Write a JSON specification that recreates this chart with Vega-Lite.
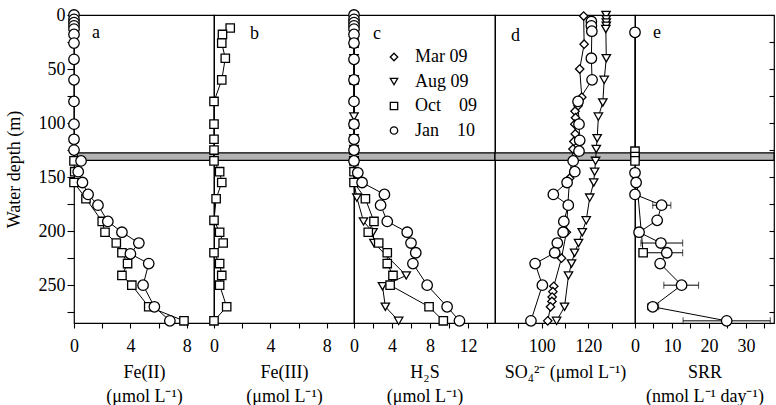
{
 "$schema": "https://vega.github.io/schema/vega-lite/v6.json",
 "background": "white",
 "padding": {"left": 4, "top": 5, "right": 0, "bottom": 0},
 "spacing": 0,
 "bounds": "flush",
 "resolve": {"scale": {"shape": "independent", "stroke": "independent"}, "legend": {"shape": "independent", "stroke": "independent"}},
 "config": {
  "font": "Liberation Serif",
  "view": {"stroke": "black", "strokeWidth": 1.2},
  "axis": {"domain": false, "grid": false, "labelFont": "Liberation Serif", "labelFontSize": 18, "labelColor": "black", "titleFont": "Liberation Serif", "titleFontSize": 18, "titleFontWeight": "normal", "titleColor": "black", "tickColor": "black", "tickWidth": 1.1, "tickSize": 5, "labelFlush": false, "labelOverlap": false},
  "axisX": {"labelPadding": 9, "titlePadding": 8, "titleLineHeight": 24},
  "axisY": {"tickSize": 7, "labelPadding": 2, "titlePadding": 15},
  "legend": {"labelFont": "Liberation Serif", "labelFontSize": 18, "labelColor": "black", "rowPadding": 6.5, "padding": 0},
  "title": {"font": "Liberation Serif", "fontSize": 18, "fontWeight": "normal", "color": "black", "anchor": "start", "frame": "group", "offset": -36, "baseline": "alphabetic"}
 },
 "datasets": {
  "band": [{"top": 127.5, "bottom": 134.5}],
  "prof": [
   {"panel": "a", "series": "Oct 09", "depth": 135, "value": 0},
   {"panel": "a", "series": "Oct 09", "depth": 145, "value": 0.05},
   {"panel": "a", "series": "Oct 09", "depth": 155, "value": 0},
   {"panel": "a", "series": "Oct 09", "depth": 170, "value": 0.85},
   {"panel": "a", "series": "Oct 09", "depth": 191, "value": 2.0},
   {"panel": "a", "series": "Oct 09", "depth": 201, "value": 2.2},
   {"panel": "a", "series": "Oct 09", "depth": 211, "value": 3.0},
   {"panel": "a", "series": "Oct 09", "depth": 220, "value": 3.4},
   {"panel": "a", "series": "Oct 09", "depth": 230, "value": 3.8},
   {"panel": "a", "series": "Oct 09", "depth": 241, "value": 3.4},
   {"panel": "a", "series": "Oct 09", "depth": 250, "value": 4.1},
   {"panel": "a", "series": "Oct 09", "depth": 270, "value": 5.3},
   {"panel": "a", "series": "Oct 09", "depth": 283, "value": 7.8},
   {"panel": "a", "series": "Jan 10", "depth": 0, "value": 0},
   {"panel": "a", "series": "Jan 10", "depth": 4, "value": 0},
   {"panel": "a", "series": "Jan 10", "depth": 7, "value": 0},
   {"panel": "a", "series": "Jan 10", "depth": 10, "value": 0},
   {"panel": "a", "series": "Jan 10", "depth": 13, "value": 0},
   {"panel": "a", "series": "Jan 10", "depth": 18, "value": 0},
   {"panel": "a", "series": "Jan 10", "depth": 26, "value": 0},
   {"panel": "a", "series": "Jan 10", "depth": 41, "value": 0},
   {"panel": "a", "series": "Jan 10", "depth": 60, "value": 0},
   {"panel": "a", "series": "Jan 10", "depth": 80, "value": 0},
   {"panel": "a", "series": "Jan 10", "depth": 101, "value": 0},
   {"panel": "a", "series": "Jan 10", "depth": 115, "value": 0},
   {"panel": "a", "series": "Jan 10", "depth": 125, "value": 0},
   {"panel": "a", "series": "Jan 10", "depth": 135, "value": 0.5},
   {"panel": "a", "series": "Jan 10", "depth": 145, "value": 0.3},
   {"panel": "a", "series": "Jan 10", "depth": 155, "value": 0.6},
   {"panel": "a", "series": "Jan 10", "depth": 166, "value": 1.0},
   {"panel": "a", "series": "Jan 10", "depth": 176, "value": 1.7},
   {"panel": "a", "series": "Jan 10", "depth": 191, "value": 2.4},
   {"panel": "a", "series": "Jan 10", "depth": 201, "value": 3.4},
   {"panel": "a", "series": "Jan 10", "depth": 211, "value": 4.6},
   {"panel": "a", "series": "Jan 10", "depth": 221, "value": 4.0},
   {"panel": "a", "series": "Jan 10", "depth": 230, "value": 5.3},
   {"panel": "a", "series": "Jan 10", "depth": 250, "value": 4.9},
   {"panel": "a", "series": "Jan 10", "depth": 270, "value": 5.7},
   {"panel": "a", "series": "Jan 10", "depth": 283, "value": 6.8},

   {"panel": "b", "series": "Oct 09", "depth": 12, "value": 1.15},
   {"panel": "b", "series": "Oct 09", "depth": 18, "value": 0.6},
   {"panel": "b", "series": "Oct 09", "depth": 26, "value": 0.55},
   {"panel": "b", "series": "Oct 09", "depth": 40, "value": 0.8},
   {"panel": "b", "series": "Oct 09", "depth": 60, "value": 0.55},
   {"panel": "b", "series": "Oct 09", "depth": 80, "value": 0},
   {"panel": "b", "series": "Oct 09", "depth": 101, "value": 0},
   {"panel": "b", "series": "Oct 09", "depth": 115, "value": 0},
   {"panel": "b", "series": "Oct 09", "depth": 125, "value": 0},
   {"panel": "b", "series": "Oct 09", "depth": 135, "value": 0},
   {"panel": "b", "series": "Oct 09", "depth": 145, "value": 0.4},
   {"panel": "b", "series": "Oct 09", "depth": 155, "value": 0.55},
   {"panel": "b", "series": "Oct 09", "depth": 170, "value": 0.15},
   {"panel": "b", "series": "Oct 09", "depth": 190, "value": 0},
   {"panel": "b", "series": "Oct 09", "depth": 201, "value": 0.4},
   {"panel": "b", "series": "Oct 09", "depth": 211, "value": 0.65},
   {"panel": "b", "series": "Oct 09", "depth": 220, "value": 0},
   {"panel": "b", "series": "Oct 09", "depth": 230, "value": 0.4},
   {"panel": "b", "series": "Oct 09", "depth": 241, "value": 0.55},
   {"panel": "b", "series": "Oct 09", "depth": 250, "value": 0.4},
   {"panel": "b", "series": "Oct 09", "depth": 270, "value": 0.9},
   {"panel": "b", "series": "Oct 09", "depth": 283, "value": 0},

   {"panel": "c", "series": "Aug 09", "depth": 1, "value": 0},
   {"panel": "c", "series": "Aug 09", "depth": 40, "value": 0},
   {"panel": "c", "series": "Aug 09", "depth": 60, "value": 0},
   {"panel": "c", "series": "Aug 09", "depth": 81, "value": 0},
   {"panel": "c", "series": "Aug 09", "depth": 94, "value": 0},
   {"panel": "c", "series": "Aug 09", "depth": 114, "value": 0},
   {"panel": "c", "series": "Aug 09", "depth": 124, "value": 0},
   {"panel": "c", "series": "Aug 09", "depth": 135, "value": 0},
   {"panel": "c", "series": "Aug 09", "depth": 145, "value": 0},
   {"panel": "c", "series": "Aug 09", "depth": 155, "value": 0},
   {"panel": "c", "series": "Aug 09", "depth": 169, "value": 0.3},
   {"panel": "c", "series": "Aug 09", "depth": 191, "value": 1.0},
   {"panel": "c", "series": "Aug 09", "depth": 201, "value": 2.0},
   {"panel": "c", "series": "Aug 09", "depth": 211, "value": 2.1},
   {"panel": "c", "series": "Aug 09", "depth": 241, "value": 5.5},
   {"panel": "c", "series": "Aug 09", "depth": 251, "value": 3.0},
   {"panel": "c", "series": "Aug 09", "depth": 270, "value": 3.3},
   {"panel": "c", "series": "Aug 09", "depth": 283, "value": 4.7},
   {"panel": "c", "series": "Oct 09", "depth": 12, "value": 0},
   {"panel": "c", "series": "Oct 09", "depth": 26, "value": 0},
   {"panel": "c", "series": "Oct 09", "depth": 60, "value": 0},
   {"panel": "c", "series": "Oct 09", "depth": 101, "value": 0},
   {"panel": "c", "series": "Oct 09", "depth": 125, "value": 0},
   {"panel": "c", "series": "Oct 09", "depth": 135, "value": 0},
   {"panel": "c", "series": "Oct 09", "depth": 145, "value": 0},
   {"panel": "c", "series": "Oct 09", "depth": 155, "value": 0},
   {"panel": "c", "series": "Oct 09", "depth": 170, "value": 1.2},
   {"panel": "c", "series": "Oct 09", "depth": 191, "value": 2.1},
   {"panel": "c", "series": "Oct 09", "depth": 201, "value": 1.5},
   {"panel": "c", "series": "Oct 09", "depth": 211, "value": 2.6},
   {"panel": "c", "series": "Oct 09", "depth": 220, "value": 3.5},
   {"panel": "c", "series": "Oct 09", "depth": 230, "value": 3.5},
   {"panel": "c", "series": "Oct 09", "depth": 241, "value": 4.1},
   {"panel": "c", "series": "Oct 09", "depth": 250, "value": 3.8},
   {"panel": "c", "series": "Oct 09", "depth": 270, "value": 7.9},
   {"panel": "c", "series": "Oct 09", "depth": 283, "value": 9.4},
   {"panel": "c", "series": "Jan 10", "depth": 0, "value": 0},
   {"panel": "c", "series": "Jan 10", "depth": 4, "value": 0},
   {"panel": "c", "series": "Jan 10", "depth": 7, "value": 0},
   {"panel": "c", "series": "Jan 10", "depth": 10, "value": 0},
   {"panel": "c", "series": "Jan 10", "depth": 13, "value": 0},
   {"panel": "c", "series": "Jan 10", "depth": 18, "value": 0},
   {"panel": "c", "series": "Jan 10", "depth": 26, "value": 0},
   {"panel": "c", "series": "Jan 10", "depth": 41, "value": 0},
   {"panel": "c", "series": "Jan 10", "depth": 60, "value": 0},
   {"panel": "c", "series": "Jan 10", "depth": 80, "value": 0},
   {"panel": "c", "series": "Jan 10", "depth": 101, "value": 0},
   {"panel": "c", "series": "Jan 10", "depth": 115, "value": 0},
   {"panel": "c", "series": "Jan 10", "depth": 125, "value": 0},
   {"panel": "c", "series": "Jan 10", "depth": 135, "value": 0},
   {"panel": "c", "series": "Jan 10", "depth": 146, "value": 0.4},
   {"panel": "c", "series": "Jan 10", "depth": 155, "value": 0.85},
   {"panel": "c", "series": "Jan 10", "depth": 166, "value": 3.2},
   {"panel": "c", "series": "Jan 10", "depth": 176, "value": 2.8},
   {"panel": "c", "series": "Jan 10", "depth": 191, "value": 3.5},
   {"panel": "c", "series": "Jan 10", "depth": 201, "value": 5.6},
   {"panel": "c", "series": "Jan 10", "depth": 211, "value": 6.0},
   {"panel": "c", "series": "Jan 10", "depth": 220, "value": 6.5},
   {"panel": "c", "series": "Jan 10", "depth": 230, "value": 6.2},
   {"panel": "c", "series": "Jan 10", "depth": 250, "value": 7.7},
   {"panel": "c", "series": "Jan 10", "depth": 270, "value": 9.8},
   {"panel": "c", "series": "Jan 10", "depth": 283, "value": 11.1},

   {"panel": "d", "series": "Mar 09", "depth": 1, "value": 118.0},
   {"panel": "d", "series": "Mar 09", "depth": 27, "value": 118.2},
   {"panel": "d", "series": "Mar 09", "depth": 50, "value": 116.3},
   {"panel": "d", "series": "Mar 09", "depth": 76, "value": 117.2},
   {"panel": "d", "series": "Mar 09", "depth": 84, "value": 115.6},
   {"panel": "d", "series": "Mar 09", "depth": 89, "value": 114.3},
   {"panel": "d", "series": "Mar 09", "depth": 95, "value": 114.5},
   {"panel": "d", "series": "Mar 09", "depth": 101, "value": 114.2},
   {"panel": "d", "series": "Mar 09", "depth": 110, "value": 114.4},
   {"panel": "d", "series": "Mar 09", "depth": 117, "value": 113.8},
   {"panel": "d", "series": "Mar 09", "depth": 124, "value": 113.4},
   {"panel": "d", "series": "Mar 09", "depth": 151, "value": 112.0},
   {"panel": "d", "series": "Mar 09", "depth": 176, "value": 111.2},
   {"panel": "d", "series": "Mar 09", "depth": 201, "value": 110.6},
   {"panel": "d", "series": "Mar 09", "depth": 225, "value": 108.5},
   {"panel": "d", "series": "Mar 09", "depth": 251, "value": 105.2},
   {"panel": "d", "series": "Mar 09", "depth": 256, "value": 104.8},
   {"panel": "d", "series": "Mar 09", "depth": 261, "value": 104.5},
   {"panel": "d", "series": "Mar 09", "depth": 265, "value": 104.4},
   {"panel": "d", "series": "Mar 09", "depth": 270, "value": 103.8},
   {"panel": "d", "series": "Mar 09", "depth": 283, "value": 102.6},
   {"panel": "d", "series": "Aug 09", "depth": 0, "value": 127.6},
   {"panel": "d", "series": "Aug 09", "depth": 4, "value": 127.7},
   {"panel": "d", "series": "Aug 09", "depth": 7, "value": 127.7},
   {"panel": "d", "series": "Aug 09", "depth": 10, "value": 127.7},
   {"panel": "d", "series": "Aug 09", "depth": 13, "value": 127.5},
   {"panel": "d", "series": "Aug 09", "depth": 40, "value": 127.7},
   {"panel": "d", "series": "Aug 09", "depth": 60, "value": 126.8},
   {"panel": "d", "series": "Aug 09", "depth": 81, "value": 126.2},
   {"panel": "d", "series": "Aug 09", "depth": 94, "value": 124.3},
   {"panel": "d", "series": "Aug 09", "depth": 114, "value": 123.8},
   {"panel": "d", "series": "Aug 09", "depth": 124, "value": 123.4},
   {"panel": "d", "series": "Aug 09", "depth": 135, "value": 123.1},
   {"panel": "d", "series": "Aug 09", "depth": 145, "value": 122.7},
   {"panel": "d", "series": "Aug 09", "depth": 155, "value": 122.3},
   {"panel": "d", "series": "Aug 09", "depth": 169, "value": 120.6},
   {"panel": "d", "series": "Aug 09", "depth": 190, "value": 119.1},
   {"panel": "d", "series": "Aug 09", "depth": 201, "value": 117.4},
   {"panel": "d", "series": "Aug 09", "depth": 211, "value": 115.8},
   {"panel": "d", "series": "Aug 09", "depth": 220, "value": 114.1},
   {"panel": "d", "series": "Aug 09", "depth": 230, "value": 112.8},
   {"panel": "d", "series": "Aug 09", "depth": 241, "value": 111.5},
   {"panel": "d", "series": "Aug 09", "depth": 270, "value": 109.8},
   {"panel": "d", "series": "Aug 09", "depth": 283, "value": 106.4},
   {"panel": "d", "series": "Jan 10", "depth": 6, "value": 121.3},
   {"panel": "d", "series": "Jan 10", "depth": 10, "value": 121.3},
   {"panel": "d", "series": "Jan 10", "depth": 15, "value": 121.5},
   {"panel": "d", "series": "Jan 10", "depth": 40, "value": 121.3},
   {"panel": "d", "series": "Jan 10", "depth": 60, "value": 121.6},
   {"panel": "d", "series": "Jan 10", "depth": 80, "value": 115.6},
   {"panel": "d", "series": "Jan 10", "depth": 101, "value": 116.0},
   {"panel": "d", "series": "Jan 10", "depth": 116, "value": 116.3},
   {"panel": "d", "series": "Jan 10", "depth": 126, "value": 116.0},
   {"panel": "d", "series": "Jan 10", "depth": 135, "value": 113.5},
   {"panel": "d", "series": "Jan 10", "depth": 145, "value": 114.2},
   {"panel": "d", "series": "Jan 10", "depth": 155, "value": 110.9},
   {"panel": "d", "series": "Jan 10", "depth": 166, "value": 105.0},
   {"panel": "d", "series": "Jan 10", "depth": 176, "value": 111.4},
   {"panel": "d", "series": "Jan 10", "depth": 191, "value": 109.5},
   {"panel": "d", "series": "Jan 10", "depth": 201, "value": 109.2},
   {"panel": "d", "series": "Jan 10", "depth": 211, "value": 106.7},
   {"panel": "d", "series": "Jan 10", "depth": 220, "value": 105.6},
   {"panel": "d", "series": "Jan 10", "depth": 230, "value": 97.2},
   {"panel": "d", "series": "Jan 10", "depth": 250, "value": 100.3},
   {"panel": "d", "series": "Jan 10", "depth": 283, "value": 95.4},

   {"panel": "e", "series": "Oct 09", "depth": 126, "value": 0},
   {"panel": "e", "series": "Oct 09", "depth": 131, "value": 0},
   {"panel": "e", "series": "Oct 09", "depth": 135, "value": 0},
   {"panel": "e", "series": "Oct 09", "depth": 220, "value": 2.2},
   {"panel": "e", "series": "Jan 10", "depth": 16, "value": 0},
   {"panel": "e", "series": "Jan 10", "depth": 146, "value": 0},
   {"panel": "e", "series": "Jan 10", "depth": 155, "value": 0.3},
   {"panel": "e", "series": "Jan 10", "depth": 166, "value": 0},
   {"panel": "e", "series": "Jan 10", "depth": 176, "value": 7.2},
   {"panel": "e", "series": "Jan 10", "depth": 190, "value": 6.0},
   {"panel": "e", "series": "Jan 10", "depth": 201, "value": 1.1},
   {"panel": "e", "series": "Jan 10", "depth": 211, "value": 7.0},
   {"panel": "e", "series": "Jan 10", "depth": 220, "value": 8.6},
   {"panel": "e", "series": "Jan 10", "depth": 230, "value": 6.8},
   {"panel": "e", "series": "Jan 10", "depth": 250, "value": 12.6},
   {"panel": "e", "series": "Jan 10", "depth": 270, "value": 4.8},
   {"panel": "e", "series": "Jan 10", "depth": 283, "value": 24.8}
  ],
  "err": [
   {"series": "Jan 10", "depth": 155, "lo": 0, "hi": 0.6},
   {"series": "Jan 10", "depth": 176, "lo": 4.8, "hi": 9.7},
   {"series": "Jan 10", "depth": 190, "lo": 5.5, "hi": 6.5},
   {"series": "Jan 10", "depth": 201, "lo": 0, "hi": 2.2},
   {"series": "Jan 10", "depth": 211, "lo": 1.6, "hi": 12.9},
   {"series": "Jan 10", "depth": 220, "lo": 1.9, "hi": 12.9},
   {"series": "Jan 10", "depth": 230, "lo": 6.3, "hi": 7.3},
   {"series": "Jan 10", "depth": 250, "lo": 7.8, "hi": 17.2},
   {"series": "Jan 10", "depth": 270, "lo": 3.4, "hi": 6.4},
   {"series": "Jan 10", "depth": 283, "lo": 13.0, "hi": 36.6},
   {"series": "Oct 09", "depth": 220, "lo": 1.6, "hi": 2.8}
  ]
 },
 "hconcat": [
  {
   "width": 140, "height": 308,
   "title": {"text": "a", "dx": 18},
   "layer": [
    {"data": {"name": "band"}, "mark": {"type": "rect", "fill": "#b3b3b3", "stroke": "black", "strokeWidth": 1.2},
     "encoding": {"y": {"field": "top", "type": "quantitative", "scale": {"domain": [0, 285], "reverse": true, "nice": false, "zero": false}, "axis": {"title": "Water depth (m)", "values": [0,25,50,75,100,125,150,175,200,225,250,275], "labelExpr": "datum.value % 50 == 0 ? datum.label : ''"}}, "y2": {"field": "bottom"}}},
    {"data": {"name": "prof"}, "transform": [{"filter": "datum.panel == 'a'"}], "mark": {"type": "line", "color": "black", "strokeWidth": 1},
     "encoding": {"x": {"field": "value", "type": "quantitative", "scale": {"domain": [0, 9.93], "nice": false, "zero": false}, "axis": {"title": ["Fe(II)", "(μmol L⁻¹)"], "values": [0,2,4,6,8], "labelExpr": "datum.value % 4 == 0 ? datum.label : ''"}},
      "y": {"field": "depth", "type": "quantitative", "scale": {"domain": [0, 285], "reverse": true, "nice": false, "zero": false}, "axis": {"title": "Water depth (m)", "values": [0,25,50,75,100,125,150,175,200,225,250,275], "labelExpr": "datum.value % 50 == 0 ? datum.label : ''"}},
      "detail": {"field": "series"}, "order": {"field": "depth", "type": "quantitative"}}},
    {"data": {"name": "prof"}, "transform": [{"filter": "datum.panel == 'a' && datum.series != 'Jan 10'"}], "mark": {"type": "point", "filled": false, "fill": "white", "stroke": "black", "strokeWidth": 1.3, "opacity": 1, "size": 70},
     "encoding": {"x": {"field": "value", "type": "quantitative", "scale": {"domain": [0, 9.93], "nice": false, "zero": false}, "axis": {"title": ["Fe(II)", "(μmol L⁻¹)"], "values": [0,2,4,6,8], "labelExpr": "datum.value % 4 == 0 ? datum.label : ''"}},
      "y": {"field": "depth", "type": "quantitative", "scale": {"domain": [0, 285], "reverse": true, "nice": false, "zero": false}, "axis": {"title": "Water depth (m)", "values": [0,25,50,75,100,125,150,175,200,225,250,275], "labelExpr": "datum.value % 50 == 0 ? datum.label : ''"}},
      "shape": {"field": "series", "type": "nominal", "scale": {"domain": ["Mar 09", "Aug 09", "Oct 09", "Jan 10"], "range": ["diamond", "triangle-down", "square", "circle"]}, "legend": null}}},
    {"data": {"name": "prof"}, "transform": [{"filter": "datum.panel == 'a' && datum.series == 'Jan 10'"}], "mark": {"type": "point", "filled": false, "fill": "white", "stroke": "black", "strokeWidth": 1.3, "opacity": 1, "size": 110},
     "encoding": {"x": {"field": "value", "type": "quantitative", "scale": {"domain": [0, 9.93], "nice": false, "zero": false}, "axis": {"title": ["Fe(II)", "(μmol L⁻¹)"], "values": [0,2,4,6,8], "labelExpr": "datum.value % 4 == 0 ? datum.label : ''"}},
      "y": {"field": "depth", "type": "quantitative", "scale": {"domain": [0, 285], "reverse": true, "nice": false, "zero": false}, "axis": {"title": "Water depth (m)", "values": [0,25,50,75,100,125,150,175,200,225,250,275], "labelExpr": "datum.value % 50 == 0 ? datum.label : ''"}},
      "shape": {"field": "series", "type": "nominal", "scale": {"domain": ["Mar 09", "Aug 09", "Oct 09", "Jan 10"], "range": ["diamond", "triangle-down", "square", "circle"]}, "legend": null}}}
   ]
  },
  {
   "width": 140, "height": 308,
   "title": {"text": "b", "dx": 36, "dy": -8},
   "layer": [
    {"data": {"name": "band"}, "mark": {"type": "rect", "fill": "#b3b3b3", "stroke": "black", "strokeWidth": 1.2},
     "encoding": {"y": {"field": "top", "type": "quantitative", "scale": {"domain": [0, 285], "reverse": true, "nice": false, "zero": false}, "axis": null}, "y2": {"field": "bottom"}}},
    {"data": {"name": "prof"}, "transform": [{"filter": "datum.panel == 'b'"}], "mark": {"type": "line", "color": "black", "strokeWidth": 1},
     "encoding": {"x": {"field": "value", "type": "quantitative", "scale": {"domain": [0, 9.93], "nice": false, "zero": false}, "axis": {"title": ["Fe(III)", "(μmol L⁻¹)"], "values": [0,2,4,6,8], "labelExpr": "datum.value % 4 == 0 ? datum.label : ''"}},
      "y": {"field": "depth", "type": "quantitative", "scale": {"domain": [0, 285], "reverse": true, "nice": false, "zero": false}, "axis": null},
      "detail": {"field": "series"}, "order": {"field": "depth", "type": "quantitative"}}},
    {"data": {"name": "prof"}, "transform": [{"filter": "datum.panel == 'b'"}], "mark": {"type": "point", "filled": false, "fill": "white", "stroke": "black", "strokeWidth": 1.3, "opacity": 1, "size": 70},
     "encoding": {"x": {"field": "value", "type": "quantitative", "scale": {"domain": [0, 9.93], "nice": false, "zero": false}, "axis": {"title": ["Fe(III)", "(μmol L⁻¹)"], "values": [0,2,4,6,8], "labelExpr": "datum.value % 4 == 0 ? datum.label : ''"}},
      "y": {"field": "depth", "type": "quantitative", "scale": {"domain": [0, 285], "reverse": true, "nice": false, "zero": false}, "axis": null},
      "shape": {"field": "series", "type": "nominal", "scale": {"domain": ["Mar 09", "Aug 09", "Oct 09", "Jan 10"], "range": ["diamond", "triangle-down", "square", "circle"]}, "legend": null}}}
   ]
  },
  {
   "width": 141, "height": 308,
   "title": {"text": "c", "dx": 19},
   "layer": [
    {"data": {"name": "band"}, "mark": {"type": "rect", "fill": "#b3b3b3", "stroke": "black", "strokeWidth": 1.2},
     "encoding": {"y": {"field": "top", "type": "quantitative", "scale": {"domain": [0, 285], "reverse": true, "nice": false, "zero": false}, "axis": null}, "y2": {"field": "bottom"}}},
    {"data": {"name": "prof"}, "transform": [{"filter": "datum.panel == 'c'"}], "mark": {"type": "line", "color": "black", "strokeWidth": 1},
     "encoding": {"x": {"field": "value", "type": "quantitative", "scale": {"domain": [0, 14.84], "nice": false, "zero": false}, "axis": {"title": ["H₂S", "(μmol L⁻¹)"], "values": [0,2,4,6,8,10,12,14], "labelExpr": "datum.value % 4 == 0 ? datum.label : ''"}},
      "y": {"field": "depth", "type": "quantitative", "scale": {"domain": [0, 285], "reverse": true, "nice": false, "zero": false}, "axis": null},
      "detail": {"field": "series"}, "order": {"field": "depth", "type": "quantitative"}}},
    {"data": {"name": "prof"}, "transform": [{"filter": "datum.panel == 'c' && datum.series != 'Jan 10'"}], "mark": {"type": "point", "filled": false, "fill": "white", "strokeWidth": 1.3, "opacity": 1, "size": 70},
     "encoding": {"x": {"field": "value", "type": "quantitative", "scale": {"domain": [0, 14.84], "nice": false, "zero": false}, "axis": {"title": ["H₂S", "(μmol L⁻¹)"], "values": [0,2,4,6,8,10,12,14], "labelExpr": "datum.value % 4 == 0 ? datum.label : ''"}},
      "y": {"field": "depth", "type": "quantitative", "scale": {"domain": [0, 285], "reverse": true, "nice": false, "zero": false}, "axis": null},
      "stroke": {"field": "series", "type": "nominal", "scale": {"domain": ["Mar 09", "Aug 09", "Oct 09", "Jan 10"], "range": ["black", "black", "black", "black"]}, "legend": {"title": null, "orient": "none", "legendX": 31, "legendY": 33, "symbolSize": 55, "symbolStrokeWidth": 1.3, "symbolFillColor": "white", "symbolOpacity": 1, "labelOffset": 12, "labelExpr": "datum.label == 'Oct 09' ? 'Oct\u00a0\u00a0\u00a0\u00a009' : (datum.label == 'Jan 10' ? 'Jan\u00a0\u00a0\u00a0\u00a010' : datum.label)"}},
      "shape": {"field": "series", "type": "nominal", "scale": {"domain": ["Mar 09", "Aug 09", "Oct 09", "Jan 10"], "range": ["diamond", "triangle-down", "square", "circle"]}, "legend": {"title": null, "orient": "none", "legendX": 31, "legendY": 33, "symbolSize": 55, "symbolStrokeWidth": 1.3, "symbolFillColor": "white", "symbolOpacity": 1, "labelOffset": 12, "labelExpr": "datum.label == 'Oct 09' ? 'Oct\u00a0\u00a0\u00a0\u00a009' : (datum.label == 'Jan 10' ? 'Jan\u00a0\u00a0\u00a0\u00a010' : datum.label)"}}}},
    {"data": {"name": "prof"}, "transform": [{"filter": "datum.panel == 'c' && datum.series == 'Jan 10'"}], "mark": {"type": "point", "filled": false, "fill": "white", "strokeWidth": 1.3, "opacity": 1, "size": 110},
     "encoding": {"x": {"field": "value", "type": "quantitative", "scale": {"domain": [0, 14.84], "nice": false, "zero": false}, "axis": {"title": ["H₂S", "(μmol L⁻¹)"], "values": [0,2,4,6,8,10,12,14], "labelExpr": "datum.value % 4 == 0 ? datum.label : ''"}},
      "y": {"field": "depth", "type": "quantitative", "scale": {"domain": [0, 285], "reverse": true, "nice": false, "zero": false}, "axis": null},
      "stroke": {"field": "series", "type": "nominal", "scale": {"domain": ["Mar 09", "Aug 09", "Oct 09", "Jan 10"], "range": ["black", "black", "black", "black"]}, "legend": {"title": null, "orient": "none", "legendX": 31, "legendY": 33, "symbolSize": 55, "symbolStrokeWidth": 1.3, "symbolFillColor": "white", "symbolOpacity": 1, "labelOffset": 12, "labelExpr": "datum.label == 'Oct 09' ? 'Oct\u00a0\u00a0\u00a0\u00a009' : (datum.label == 'Jan 10' ? 'Jan\u00a0\u00a0\u00a0\u00a010' : datum.label)"}},
      "shape": {"field": "series", "type": "nominal", "scale": {"domain": ["Mar 09", "Aug 09", "Oct 09", "Jan 10"], "range": ["diamond", "triangle-down", "square", "circle"]}, "legend": {"title": null, "orient": "none", "legendX": 31, "legendY": 33, "symbolSize": 55, "symbolStrokeWidth": 1.3, "symbolFillColor": "white", "symbolOpacity": 1, "labelOffset": 12, "labelExpr": "datum.label == 'Oct 09' ? 'Oct\u00a0\u00a0\u00a0\u00a009' : (datum.label == 'Jan 10' ? 'Jan\u00a0\u00a0\u00a0\u00a010' : datum.label)"}}}}
   ]
  },
  {
   "width": 140, "height": 308,
   "title": {"text": "d", "dx": 16},
   "layer": [
    {"data": {"name": "band"}, "mark": {"type": "rect", "fill": "#b3b3b3", "stroke": "black", "strokeWidth": 1.2},
     "encoding": {"y": {"field": "top", "type": "quantitative", "scale": {"domain": [0, 285], "reverse": true, "nice": false, "zero": false}, "axis": null}, "y2": {"field": "bottom"}}},
    {"data": {"name": "prof"}, "transform": [{"filter": "datum.panel == 'd'"}], "mark": {"type": "line", "color": "black", "strokeWidth": 1},
     "encoding": {"x": {"field": "value", "type": "quantitative", "scale": {"domain": [80, 140], "nice": false, "zero": false}, "axis": {"title": "SO₄²⁻ (μmol L⁻¹)", "values": [90,100,110,120,130], "labelExpr": "datum.value % 20 == 0 ? datum.label : ''"}},
      "y": {"field": "depth", "type": "quantitative", "scale": {"domain": [0, 285], "reverse": true, "nice": false, "zero": false}, "axis": null},
      "detail": {"field": "series"}, "order": {"field": "depth", "type": "quantitative"}}},
    {"data": {"name": "prof"}, "transform": [{"filter": "datum.panel == 'd' && datum.series != 'Jan 10'"}], "mark": {"type": "point", "filled": false, "fill": "white", "stroke": "black", "strokeWidth": 1.3, "opacity": 1, "size": 70},
     "encoding": {"x": {"field": "value", "type": "quantitative", "scale": {"domain": [80, 140], "nice": false, "zero": false}, "axis": {"title": "SO₄²⁻ (μmol L⁻¹)", "values": [90,100,110,120,130], "labelExpr": "datum.value % 20 == 0 ? datum.label : ''"}},
      "y": {"field": "depth", "type": "quantitative", "scale": {"domain": [0, 285], "reverse": true, "nice": false, "zero": false}, "axis": null},
      "shape": {"field": "series", "type": "nominal", "scale": {"domain": ["Mar 09", "Aug 09", "Oct 09", "Jan 10"], "range": ["diamond", "triangle-down", "square", "circle"]}, "legend": null}}},
    {"data": {"name": "prof"}, "transform": [{"filter": "datum.panel == 'd' && datum.series == 'Jan 10'"}], "mark": {"type": "point", "filled": false, "fill": "white", "stroke": "black", "strokeWidth": 1.3, "opacity": 1, "size": 110},
     "encoding": {"x": {"field": "value", "type": "quantitative", "scale": {"domain": [80, 140], "nice": false, "zero": false}, "axis": {"title": "SO₄²⁻ (μmol L⁻¹)", "values": [90,100,110,120,130], "labelExpr": "datum.value % 20 == 0 ? datum.label : ''"}},
      "y": {"field": "depth", "type": "quantitative", "scale": {"domain": [0, 285], "reverse": true, "nice": false, "zero": false}, "axis": null},
      "shape": {"field": "series", "type": "nominal", "scale": {"domain": ["Mar 09", "Aug 09", "Oct 09", "Jan 10"], "range": ["diamond", "triangle-down", "square", "circle"]}, "legend": null}}}
   ]
  },
  {
   "width": 139, "height": 308,
   "title": {"text": "e", "dx": 18, "dy": -8},
   "layer": [
    {"data": {"name": "band"}, "mark": {"type": "rect", "fill": "#b3b3b3", "stroke": "black", "strokeWidth": 1.2},
     "encoding": {"y": {"field": "top", "type": "quantitative", "scale": {"domain": [0, 285], "reverse": true, "nice": false, "zero": false}, "axis": {"orient": "right", "title": null, "labels": false, "values": [0,25,50,75,100,125,150,175,200,225,250,275], "tickSize": -5}}, "y2": {"field": "bottom"}}},
    {"data": {"name": "err"}, "mark": {"type": "errorbar", "ticks": {"size": 7, "thickness": 1}, "color": "black", "thickness": 1},
     "encoding": {"x": {"field": "lo", "type": "quantitative", "scale": {"domain": [0, 37.6], "nice": false, "zero": false}, "axis": {"title": ["SRR", "(nmol L⁻¹ day⁻¹)"], "values": [0,5,10,15,20,25,30,35], "labelExpr": "datum.value % 10 == 0 ? datum.label : ''"}}, "x2": {"field": "hi"},
      "y": {"field": "depth", "type": "quantitative", "scale": {"domain": [0, 285], "reverse": true, "nice": false, "zero": false}, "axis": {"orient": "right", "title": null, "labels": false, "values": [0,25,50,75,100,125,150,175,200,225,250,275], "tickSize": -5}}}},
    {"data": {"name": "prof"}, "transform": [{"filter": "datum.panel == 'e'"}], "mark": {"type": "line", "color": "black", "strokeWidth": 1},
     "encoding": {"x": {"field": "value", "type": "quantitative", "scale": {"domain": [0, 37.6], "nice": false, "zero": false}, "axis": {"title": ["SRR", "(nmol L⁻¹ day⁻¹)"], "values": [0,5,10,15,20,25,30,35], "labelExpr": "datum.value % 10 == 0 ? datum.label : ''"}},
      "y": {"field": "depth", "type": "quantitative", "scale": {"domain": [0, 285], "reverse": true, "nice": false, "zero": false}, "axis": {"orient": "right", "title": null, "labels": false, "values": [0,25,50,75,100,125,150,175,200,225,250,275], "tickSize": -5}},
      "detail": {"field": "series"}, "order": {"field": "depth", "type": "quantitative"}}},
    {"data": {"name": "prof"}, "transform": [{"filter": "datum.panel == 'e' && datum.series != 'Jan 10'"}], "mark": {"type": "point", "filled": false, "fill": "white", "stroke": "black", "strokeWidth": 1.3, "opacity": 1, "size": 70},
     "encoding": {"x": {"field": "value", "type": "quantitative", "scale": {"domain": [0, 37.6], "nice": false, "zero": false}, "axis": {"title": ["SRR", "(nmol L⁻¹ day⁻¹)"], "values": [0,5,10,15,20,25,30,35], "labelExpr": "datum.value % 10 == 0 ? datum.label : ''"}},
      "y": {"field": "depth", "type": "quantitative", "scale": {"domain": [0, 285], "reverse": true, "nice": false, "zero": false}, "axis": {"orient": "right", "title": null, "labels": false, "values": [0,25,50,75,100,125,150,175,200,225,250,275], "tickSize": -5}},
      "shape": {"field": "series", "type": "nominal", "scale": {"domain": ["Mar 09", "Aug 09", "Oct 09", "Jan 10"], "range": ["diamond", "triangle-down", "square", "circle"]}, "legend": null}}},
    {"data": {"name": "prof"}, "transform": [{"filter": "datum.panel == 'e' && datum.series == 'Jan 10'"}], "mark": {"type": "point", "filled": false, "fill": "white", "stroke": "black", "strokeWidth": 1.3, "opacity": 1, "size": 110},
     "encoding": {"x": {"field": "value", "type": "quantitative", "scale": {"domain": [0, 37.6], "nice": false, "zero": false}, "axis": {"title": ["SRR", "(nmol L⁻¹ day⁻¹)"], "values": [0,5,10,15,20,25,30,35], "labelExpr": "datum.value % 10 == 0 ? datum.label : ''"}},
      "y": {"field": "depth", "type": "quantitative", "scale": {"domain": [0, 285], "reverse": true, "nice": false, "zero": false}, "axis": {"orient": "right", "title": null, "labels": false, "values": [0,25,50,75,100,125,150,175,200,225,250,275], "tickSize": -5}},
      "shape": {"field": "series", "type": "nominal", "scale": {"domain": ["Mar 09", "Aug 09", "Oct 09", "Jan 10"], "range": ["diamond", "triangle-down", "square", "circle"]}, "legend": null}}}
   ]
  }
 ]
}
